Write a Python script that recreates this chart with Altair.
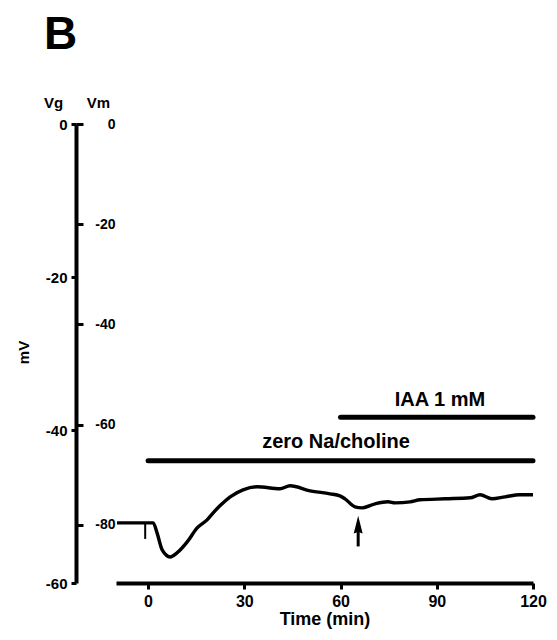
import altair as alt
import pandas as pd

# ---- data ----
time_min = [-9.7, -2.5, 1.6, 2.8, 4.4, 6.9, 9.0, 12.2, 15.3, 18.4, 20.3, 22.4,
            25.6, 29.6, 34.0, 41.1, 44.3, 50.5, 56.7, 59.8, 61.4, 64.5, 66.7,
            70.8, 74.8, 77.0, 81.7, 84.8, 92.6, 100.4, 103.5, 107.2, 111.3,
            115.9, 120.0]
vm_mv = [-79.6, -79.6, -79.6, -81.6, -85.0, -86.4, -85.6, -83.4, -80.6, -79.0,
         -77.6, -76.2, -74.4, -73.0, -72.4, -72.8, -72.2, -73.2, -73.8, -74.2,
         -74.8, -76.4, -76.6, -75.8, -75.4, -75.6, -75.4, -75.0, -74.8, -74.6,
         -74.0, -74.8, -74.4, -74.0, -74.0]

bar_labels = ["zero Na/choline", "IAA 1 mM"]
bar_start = [0, 60]
bar_end = [120, 120]
bar_level = [-67.2, -58.5]
label_time = [58.6, 91.0]
label_level = [-64.6, -56.3]

arrow_time = [65.5]
arrow_head = [-80.4]
arrow_tail = [-84.3]

artifact_time = [-0.9]
artifact_top = [-79.6]
artifact_bottom = [-82.8]

time_ticks = [0, 30, 60, 90, 120]
vm_ticks = [0, -20, -40, -60, -80]
vg_ticks = [0, -20, -40, -60]

FONT = "Liberation Sans"
PLAIN_NUM = "toString(datum.value)"

trace_df = pd.DataFrame({"t": time_min, "vm": vm_mv})
bars_df = pd.DataFrame({"label": bar_labels, "t0": bar_start, "t1": bar_end,
                        "lvl": bar_level, "lt": label_time, "ll": label_level})
arrow_df = pd.DataFrame({"t": arrow_time, "head": arrow_head, "tail": arrow_tail})
art_df = pd.DataFrame({"t": artifact_time, "top": artifact_top, "bot": artifact_bottom})
vg_df = pd.DataFrame({"vg": vg_ticks})

x_scale = alt.Scale(domain=[-10, 120], nice=False, zero=False)
x_axis = alt.Axis(values=time_ticks, title="Time (min)", grid=False,
                  domain=True, domainWidth=4, domainColor="black",
                  domainOpacity=1,
                  tickWidth=3, tickSize=6,
                  tickColor="black", labelFontSize=16, labelFontWeight="bold",
                  labelColor="black", labelPadding=4, labelFlush=False,
                  titleFontSize=18, titleFontWeight="bold", titleColor="black",
                  titlePadding=1)

vm_scale = alt.Scale(domain=[-91.6, 0], nice=False, zero=False)
vm_axis = alt.Axis(orient="right", offset=-457, values=vm_ticks, grid=False,
                   domain=False, tickSize=7, tickWidth=3, tickColor="black",
                   labelAlign="right", labelPadding=32, labelFontSize=14,
                   labelFontWeight="bold", labelColor="black",
                   labelExpr=PLAIN_NUM,
                   title="Vm", titleAngle=0, titleX=22, titleY=-22,
                   titleAlign="center", titleBaseline="middle",
                   titleFontSize=15, titleFontWeight="bold", titleColor="black")


def X(field):
    return alt.X(field, type="quantitative", scale=x_scale, axis=x_axis)


def Y(field):
    return alt.Y(field, type="quantitative", scale=vm_scale, axis=vm_axis)


trace = alt.Chart(trace_df).mark_line(color="black", strokeWidth=3.4,
                                      strokeJoin="round", interpolate="monotone").encode(
    x=X("t"), y=Y("vm"))

bars = alt.Chart(bars_df).mark_rule(color="black", strokeWidth=5,
                                    strokeCap="round").encode(
    x=X("t0"), x2="t1", y=Y("lvl"))

bar_text = alt.Chart(bars_df).mark_text(fontSize=20, fontWeight="bold", font=FONT,
                                        color="black", align="center",
                                        baseline="alphabetic").encode(
    x=X("lt"), y=Y("ll"), text="label:N")

arrow_shaft = alt.Chart(arrow_df).mark_rule(color="black", strokeWidth=3).encode(
    x=X("t"), y=Y("head"), y2="tail")
arrow_tip = alt.Chart(arrow_df).mark_point(
    shape="M0,-1L0.4,0.6L0,0.45L-0.4,0.6Z", size=500, filled=True,
    color="black", opacity=1).encode(x=X("t"), y=Y("head"))

artifact = alt.Chart(art_df).mark_rule(color="black", strokeWidth=2).encode(
    x=X("t"), y=Y("top"), y2="bot")

vm_layer = alt.layer(trace, bars, bar_text, arrow_shaft, arrow_tip, artifact)

vg_layer = alt.Chart(vg_df).mark_point(opacity=0, strokeOpacity=0).encode(
    y=alt.Y("vg:Q", scale=alt.Scale(domain=[-60, 0], nice=False, zero=False),
            axis=alt.Axis(orient="left", offset=40, values=vg_ticks, grid=False,
                          domain=True, domainWidth=4, domainColor="black",
                          domainOpacity=1, tickSize=5,
                          tickWidth=3, tickColor="black", labelPadding=4,
                          labelFontSize=15, labelFontWeight="bold",
                          labelColor="black", labelExpr=PLAIN_NUM,
                          title="Vg", titleAngle=0,
                          titleX=-23, titleY=-22, titleAlign="center",
                          titleBaseline="middle", titleFontSize=15,
                          titleFontWeight="bold", titleColor="black")))

mv_layer = alt.Chart(vg_df).mark_point(opacity=0, strokeOpacity=0).encode(
    y=alt.Y("vg:Q", scale=alt.Scale(domain=[-60, 0], nice=False, zero=False),
            axis=alt.Axis(orient="left", offset=40, domain=False, ticks=False,
                          labels=False, grid=False, title="mV", titleAngle=-90,
                          titleX=-53, titleY=228, titleAlign="center",
                          titleBaseline="middle", titleFontSize=15,
                          titleFontWeight="bold", titleColor="black")))

chart = alt.layer(vm_layer, vg_layer, mv_layer).resolve_scale(
    y="independent").properties(
    width=417, height=459,
    autosize=alt.AutoSizeParams(type="none"),
    padding={"left": 108, "top": 116, "right": 16, "bottom": 50},
    title=alt.TitleParams("B", anchor="start", frame="group", fontSize=46,
                          fontWeight=900, font=FONT, color="black", dx=-72,
                          offset=36),
).configure_view(stroke="transparent", strokeOpacity=0, strokeWidth=0
).configure_axis(grid=False, domain=False, domainOpacity=0, gridOpacity=0
).configure(font=FONT, style={"cell": {"stroke": "transparent", "strokeWidth": 0}})

chart.save("out.html", embed_options={"renderer": "svg", "actions": False})
